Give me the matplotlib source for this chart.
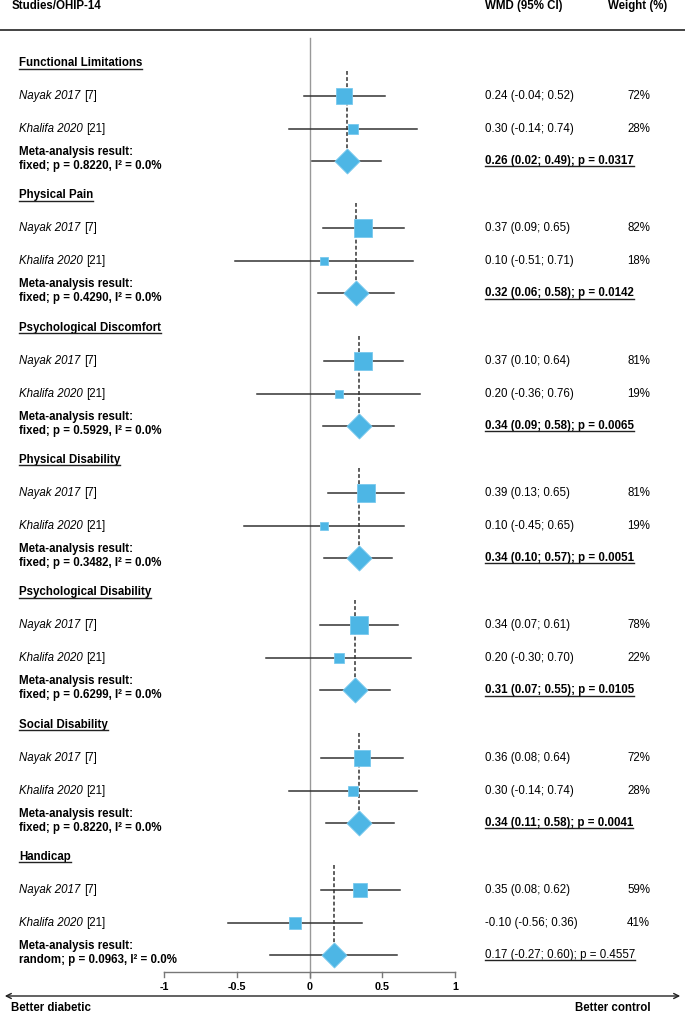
import numpy as np
import matplotlib
matplotlib.use("Agg")
import matplotlib.pyplot as plt
from matplotlib.lines import Line2D
from matplotlib.patches import FancyArrowPatch

plt.rcParams['font.family'] = ['Liberation Sans', 'DejaVu Sans']

# ---- data ----
groups = ["Functional Limitations", "Physical Pain", "Psychological Discomfort",
          "Physical Disability", "Psychological Disability", "Social Disability", "Handicap"]
study_names = ["Nayak 2017", "Khalifa 2020"]
study_refs = ["[7]", "[21]"]

nayak_est = [0.24, 0.37, 0.37, 0.39, 0.34, 0.36, 0.35]
nayak_lo = [-0.04, 0.09, 0.10, 0.13, 0.07, 0.08, 0.08]
nayak_hi = [0.52, 0.65, 0.64, 0.65, 0.61, 0.64, 0.62]
nayak_w = [72, 82, 81, 81, 78, 72, 59]

khalifa_est = [0.30, 0.10, 0.20, 0.10, 0.20, 0.30, -0.10]
khalifa_lo = [-0.14, -0.51, -0.36, -0.45, -0.30, -0.14, -0.56]
khalifa_hi = [0.74, 0.71, 0.76, 0.65, 0.70, 0.74, 0.36]
khalifa_w = [28, 18, 19, 19, 22, 28, 41]

pooled_est = [0.26, 0.32, 0.34, 0.34, 0.31, 0.34, 0.17]
pooled_lo = [0.02, 0.06, 0.09, 0.10, 0.07, 0.11, -0.27]
pooled_hi = [0.49, 0.58, 0.58, 0.57, 0.55, 0.58, 0.60]
pooled_p = ["0.0317", "0.0142", "0.0065", "0.0051", "0.0105", "0.0041", "0.4557"]
model = ["fixed", "fixed", "fixed", "fixed", "fixed", "fixed", "random"]
het_p = ["0.8220", "0.4290", "0.5929", "0.3482", "0.6299", "0.8220", "0.0963"]
i2 = ["0.0%", "0.0%", "0.0%", "0.0%", "0.0%", "0.0%", "0.0%"]

xticks = [-1, -0.5, 0, 0.5, 1]
xtick_labels = ["-1", "-0.5", "0", "0.5", "1"]

# ---- layout ----
W, H = 685, 1013
fig = plt.figure(figsize=(W / 100, H / 100), dpi=100)
ax = fig.add_axes([0, 0, 1, 1])
x0_px, unit_px = 309.5, 145.5
ax.set_xlim(-x0_px / unit_px, (W - x0_px) / unit_px)
ax.set_ylim(H, 0)
ax.axis('off')


def px(p):
    return (p - x0_px) / unit_px


FS = 8.3
BLUE = '#4DB6E5'
EDGE = '#78C9EE'
LINE = '#333333'
underlined = []

col_label, col_wmd, col_w = 19, 485, 627

ax.text(px(12), 6, 'Studies/OHIP-14', fontsize=FS, weight='bold', va='center')
ax.text(px(col_wmd), 6, 'WMD (95% CI)', fontsize=FS, weight='bold', va='center')
ax.text(px(608), 6, 'Weight (%)', fontsize=FS, weight='bold', va='center')
ax.plot([px(0), px(W)], [30, 30], color='#222222', lw=1.2)

# line of no effect
ax.plot([0, 0], [38, 978], color='#999999', lw=1, zorder=1)

diamond = [(0, 1), (1, 0), (0, -1), (-1, 0), (0, 1)]

for g, name in enumerate(groups):
    top = 63 + 132.3 * g
    t = ax.text(px(col_label), top, name, fontsize=FS, weight='bold', va='center')
    underlined.append(t)

    ax.plot([pooled_est[g]] * 2, [top + 8, top + 100], color=LINE, lw=1.1,
            ls=(0, (2.5, 1.5)), zorder=2)

    rows = [(nayak_est[g], nayak_lo[g], nayak_hi[g], nayak_w[g]),
            (khalifa_est[g], khalifa_lo[g], khalifa_hi[g], khalifa_w[g])]
    for i, (e, lo, hi, w) in enumerate(rows):
        y = top + 33 * (i + 1)
        ax.plot([lo, hi], [y, y], color=LINE, lw=1.1, zorder=2)
        side = 1.95 * np.sqrt(w) * 72 / 100
        ax.plot(e, y, marker='s', ms=side, color=BLUE, mec=EDGE, mew=0.6, zorder=3)
        tn = ax.text(px(col_label), y, study_names[i], fontsize=FS, style='italic', va='center')
        ax.annotate(study_refs[i], xy=(1, 0.5), xycoords=tn, xytext=(2.5, 0),
                    textcoords='offset points', fontsize=FS, va='center', ha='left')
        ax.text(px(col_wmd), y, f"{e:.2f} ({lo:.2f}; {hi:.2f})", fontsize=FS, va='center')
        ax.text(px(col_w), y, f"{w}%", fontsize=FS, va='center')

    ym = top + 98
    ax.plot([pooled_lo[g], pooled_hi[g]], [ym, ym], color=LINE, lw=1.1, zorder=2)
    ax.plot(pooled_est[g], ym, marker=diamond, ms=18, color=BLUE, mec=EDGE, mew=0.6, zorder=4)
    ax.text(px(col_label), top + 89, 'Meta-analysis result:', fontsize=FS, weight='bold', va='center')
    ax.text(px(col_label), top + 103, f"{model[g]}; p = {het_p[g]}, I\u00b2 = {i2[g]}",
            fontsize=FS, weight='bold', va='center')
    res = ax.text(px(col_wmd), ym,
                  f"{pooled_est[g]:.2f} ({pooled_lo[g]:.2f}; {pooled_hi[g]:.2f}); p = {pooled_p[g]}",
                  fontsize=FS, va='center',
                  weight='bold' if model[g] == 'fixed' else 'normal')
    underlined.append(res)

# bottom axis
ax.plot([xticks[0], xticks[-1]], [972, 972], color='#777777', lw=1)
for tk, lab in zip(xticks, xtick_labels):
    ax.plot([tk, tk], [972, 977], color='#777777', lw=1)
    ax.text(tk, 987, lab, fontsize=FS - 0.5, weight='bold', ha='center', va='center')

arrow = FancyArrowPatch((px(2), 996), (px(683), 996), arrowstyle='<->',
                        mutation_scale=9, color='#222222', lw=1)
ax.add_patch(arrow)
ax.text(px(11), 1008, 'Better diabetic', fontsize=FS, weight='bold', va='center')
ax.text(px(651), 1008, 'Better control', fontsize=FS, weight='bold', va='center', ha='right')

# underline texts
fig.canvas.draw()
renderer = fig.canvas.get_renderer()
inv = fig.transFigure.inverted()
for t in underlined:
    bb = t.get_window_extent(renderer)
    (fx0, fy), (fx1, _) = inv.transform([(bb.x0, bb.y0 + 0.5), (bb.x1, bb.y0 + 0.5)])
    fig.add_artist(Line2D([fx0, fx1], [fy, fy], transform=fig.transFigure,
                          color='#222222', lw=1.0))

fig.savefig('out.png', dpi=100)
